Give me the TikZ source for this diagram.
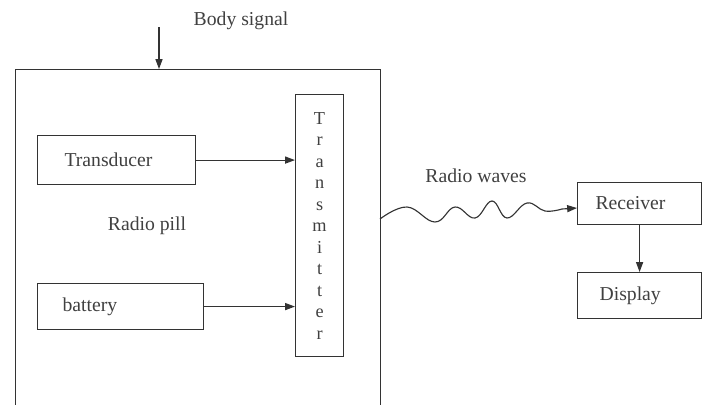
\documentclass[tikz,border=0pt]{standalone}
\usepackage{fontspec}
\setmainfont{Liberation Serif}
\usepackage{xcolor}
\usepackage{tikz}
\usetikzlibrary{positioning,arrows.meta,calc}

\begin{document}
\begin{tikzpicture}[x=0.025cm,y=-0.025cm,
    line width=0.8pt, draw=black!80, text=black!75,
    font=\fontsize{14}{16}\selectfont,
    >={Triangle[length=7pt,width=5pt]},
    block/.style={draw, inner xsep=0pt, inner ysep=0pt, align=left}]
  \useasboundingbox (0,0) rectangle (703,404);

  % radio pill casing (bottom runs off the page)
  \node[draw, minimum width=9.125cm, minimum height=8.775cm, anchor=north west, inner sep=0pt]
    (pill) at (15,69) {};
  \node (pilllabel) at (147,226) {Radio pill};

  % blocks inside the pill
  \node[block, minimum width=3.95cm, minimum height=1.225cm, text width=3.5cm, anchor=north west]
    (transducer) at (37,135) {\hspace{0.45cm}Transducer};
  \node[block, minimum width=4.15cm, minimum height=1.15cm, text width=3.7cm, anchor=north west]
    (battery) at (37,283) {\hspace{0.4cm}battery};
  \node[draw, minimum width=1.2cm, minimum height=6.55cm, anchor=north west, inner sep=0pt,
        align=center, font=\fontsize{13}{15.3}\selectfont]
    (transmitter) at (295,94) {T\\r\\a\\n\\s\\m\\i\\t\\t\\e\\r};

  % outside blocks
  \node[block, minimum width=3.1cm, minimum height=1.05cm, text width=2.8cm, anchor=north west]
    (receiver) at (577,182) {\hspace{0.3cm}Receiver};
  \node[block, minimum width=3.1cm, minimum height=1.15cm, text width=2.8cm, anchor=north west]
    (display) at (577,272) {\hspace{0.4cm}Display};

  % labels
  \node (bodylabel) at (241,21) {Body signal};
  \node (waveslabel) at (476,176) {Radio waves};

  % connectors
  \coordinate (sigin) at (159,27);
  \draw[->] (sigin) -- (sigin |- pill.north);
  \draw[->] (transducer) -- (transducer -| transmitter.west);
  \draw[->] (battery) -- (battery -| transmitter.west);
  \draw[->] (receiver) -- (display);
  \coordinate (wavestart) at (380,219);
  \draw[->] plot[smooth, tension=0.7] coordinates {(wavestart) (407,207) (435,222) (455,207)
      (475,218) (492,201) (507,218) (527,203) (545,211) (562,209)} -- (receiver.west |- 0,208);
\end{tikzpicture}
\end{document}
